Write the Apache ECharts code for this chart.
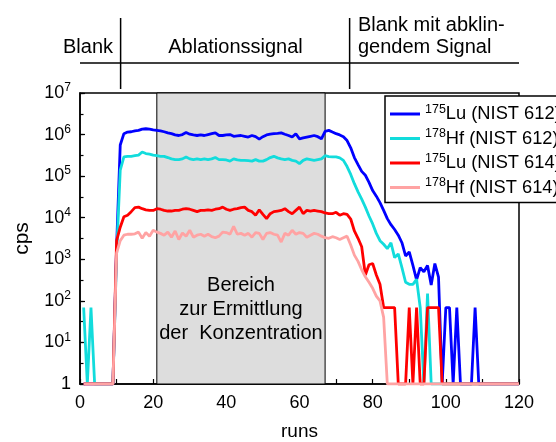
<!DOCTYPE html>
<html><head><meta charset="utf-8">
<script src="https://cdn.jsdelivr.net/npm/echarts@6.0.0/dist/echarts.min.js"></script>
<style>html,body{margin:0;padding:0;background:#fff}#c{width:556px;height:442px}</style>
</head><body><div id="c"></div>
<script>
// ---- data ----
const isotopes = ['175', '178', '175', '178'];
const elements = ['Lu', 'Hf', 'Lu', 'Hf'];
const materials = ['NIST 612', 'NIST 612', 'NIST 614', 'NIST 614'];
const seriesNames = ['175Lu (NIST 612)', '178Hf (NIST 612)', '175Lu (NIST 614)', '178Hf (NIST 614)'];
const xTickValues = [0, 20, 40, 60, 80, 100, 120];
const phaseBounds = [11.1, 73.7];          // Blank | Ablationssignal | Blank mit abklingendem Signal
const evalRange = [21, 67];                // Bereich zur Ermittlung der Konzentration
const firstRun = 1;

// cps per run (runs 1..120)
const lu612 = [1,1,1,1,1,1,1,1,1,
  2000,5.6e5,1.05e6,1.15e6,1.17e6,1.23e6,1.26e6,1.35e6,1.38e6,1.35e6,
  1.29e6,1.26e6,1.23e6,1.17e6,1.1e6,1.05e6,9.8e5,9.5e5,1.0e6,1.12e6,
  1.02e6,9.8e5,9.5e5,9.8e5,9.5e5,1.0e6,1.05e6,1.1e6,9.5e5,9.5e5,
  9.8e5,1.0e6,9.1e5,9.3e5,9.5e5,9.1e5,8.7e5,9.5e5,8.9e5,7.8e5,
  8.9e5,9.8e5,1.02e6,1.05e6,1.07e6,1.1e6,1.02e6,9.5e5,8.7e5,1.05e6,
  7.9e5,8.3e5,8.7e5,9.1e5,9.5e5,8.9e5,7.9e5,1.2e6,1.26e6,1.15e6,
  1.05e6,9.8e5,8.9e5,7.2e5,4.8e5,2.8e5,1.9e5,1.3e5,1.05e5,7.1e4,
  4.5e4,3.3e4,2.3e4,1.5e4,9500,6800,5200,3800,2500,1200,
  1500,710,320,630,500,710,240,790,370,1,
  69,69,1,69,1,1,1,1,69,1,
  1,1,1,1,1,1,1,1,1,1,1];
const hf612 = [69,1,69,1,1,1,1,1,1,
  1300,1.4e5,2.9e5,3.0e5,3.0e5,3.1e5,3.2e5,3.8e5,3.5e5,3.4e5,
  3.2e5,3.1e5,3.0e5,3.0e5,2.8e5,2.6e5,2.5e5,2.5e5,2.6e5,2.9e5,
  2.6e5,2.5e5,2.6e5,2.5e5,2.6e5,2.5e5,2.6e5,2.8e5,2.5e5,2.5e5,
  2.45e5,2.3e5,2.6e5,2.45e5,2.4e5,2.4e5,2.35e5,2.3e5,2.5e5,2.3e5,
  2.3e5,2.5e5,2.8e5,3.0e5,2.75e5,2.6e5,2.5e5,2.6e5,2.4e5,2.3e5,
  2.0e5,2.4e5,2.6e5,2.5e5,2.4e5,2.5e5,2.6e5,3.1e5,2.95e5,2.9e5,
  2.9e5,2.75e5,2.4e5,1.7e5,1.1e5,6.6e4,4.2e4,2.8e4,1.8e4,1.1e4,
  7100,4200,2800,2300,1800,2500,1100,1350,630,280,
  250,250,330,69,1,150,1,1,1,1,
  1,1,1,1,1,1,1,1,1,1,
  1,1,1,1,1,1,1,1,1,1,1];
const lu614 = [1,1,1,1,1,1,1,1,1,
  2800,5900,1.05e4,1.15e4,1.4e4,1.75e4,1.8e4,1.65e4,1.55e4,1.5e4,
  1.5e4,1.65e4,1.6e4,1.5e4,1.45e4,1.45e4,1.5e4,1.5e4,1.6e4,1.65e4,
  1.6e4,1.5e4,1.4e4,1.5e4,1.5e4,1.55e4,1.5e4,1.6e4,1.65e4,1.8e4,
  1.6e4,1.5e4,1.6e4,1.65e4,1.75e4,1.8e4,1.5e4,1.4e4,1.15e4,1.55e4,
  1.2e4,9500,1.25e4,1.4e4,1.45e4,1.5e4,1.65e4,1.4e4,1.25e4,1.5e4,
  1.8e4,1.25e4,1.5e4,1.45e4,1.5e4,1.45e4,1.4e4,1.3e4,1.25e4,1.25e4,
  1.35e4,1.15e4,1.25e4,1.2e4,9300,4800,3200,2000,420,740,
  790,420,250,69,69,69,69,1,1,1,
  69,1,69,1,1,69,69,69,69,1,
  1,1,1,1,1,1,1,1,1,1,
  1,1,1,1,1,1,1,1,1,1,1];
const hf614 = [1,1,1,1,1,1,1,1,1,
  1400,2800,3800,4000,4000,4100,4500,3200,4400,3600,
  5000,4500,4200,3800,4500,3400,4800,3000,4300,3600,
  5000,3400,3800,4000,3600,4000,3500,3300,3600,4500,
  4400,4000,6200,4000,4200,3800,4200,3400,4400,4200,
  3000,4200,4400,4000,3800,2600,4200,3800,5000,4000,
  4400,4200,3400,3800,4200,4000,3600,3300,3200,3500,
  3300,3000,3300,3600,2200,1260,890,560,380,280,
  200,130,100,40,1,1,1,1,1,1,
  1,1,1,1,1,1,1,1,1,1,
  1,1,1,1,1,1,1,1,1,1,
  1,1,1,1,1,1,1,1,1,1,1];
const seriesValues = [lu612, hf612, lu614, hf614];
const seriesColors = ['#0000ff', '#12dcdc', '#ff0000', '#ffa3a3'];

// ---- chart ----
const FF = '"Liberation Sans", Arial, Helvetica, sans-serif';
const chart = echarts.init(document.getElementById('c'), null, { renderer: 'canvas' });

const lineSeries = seriesValues.map((vals, k) => ({
  type: 'line',
  name: seriesNames[k],
  data: vals.map((v, i) => [i + firstRun, v]),
  symbol: 'none',
  showSymbol: false,
  lineStyle: { width: 2.8, color: seriesColors[k] },
  itemStyle: { color: seriesColors[k] },
  z: 3,
  animation: false
}));

const areaSeries = {
  type: 'line',
  name: '_area',
  data: [],
  z: 1,
  animation: false,
  markArea: {
    silent: true,
    itemStyle: { color: '#dddddd', borderColor: '#000', borderWidth: 1 },
    label: {
      show: true,
      position: ['50%', '74.3%'],
      align: 'center',
      verticalAlign: 'middle',
      color: '#000',
      fontFamily: FF,
      fontSize: 20,
      lineHeight: 24,
      formatter: 'Bereich\nzur Ermittlung\nder  Konzentration'
    },
    data: [[{ xAxis: evalRange[0] }, { xAxis: evalRange[1] }]]
  }
};

const option = {
  backgroundColor: '#fff',
  animation: false,
  grid: { left: 80, right: 37, top: 93, bottom: 58, show: true, borderColor: '#000', borderWidth: 1.5, backgroundColor: 'transparent', outerBoundsMode: 'none', containLabel: false },
  legend: {
    data: seriesNames.map(n => ({ name: n, icon: 'rect' })),
    orient: 'vertical',
    left: 385, top: 96,
    padding: [7, 10, 6, 5],
    itemGap: 4.5,
    itemWidth: 30, itemHeight: 3,
    backgroundColor: '#fff',
    borderColor: '#000', borderWidth: 1.5, borderRadius: 0,
    selectedMode: false,
    formatter: name => {
      const i = seriesNames.indexOf(name);
      return '{s|' + isotopes[i] + '}{n|' + elements[i] + ' (' + materials[i] + ')}';
    },
    textStyle: {
      color: '#000', fontFamily: FF, fontSize: 18,
      rich: {
        s: { fontSize: 12.5, fontFamily: FF, color: '#000', verticalAlign: 'top' },
        n: { fontSize: 18.3, fontFamily: FF, color: '#000', lineHeight: 22, verticalAlign: 'middle' }
      }
    }
  },
  xAxis: {
    type: 'value', min: xTickValues[0], max: xTickValues[xTickValues.length - 1], interval: 20,
    name: 'runs', nameLocation: 'middle', nameGap: 38,
    nameTextStyle: { color: '#000', fontFamily: FF, fontSize: 19 },
    axisLine: { show: true, lineStyle: { color: '#000', width: 1.5 } },
    axisTick: { show: true, inside: true, length: 5, lineStyle: { color: '#000', width: 1.2 } },
    minorTick: { show: true, splitNumber: 2, length: 5, lineStyle: { color: '#000', width: 1.2 } },
    splitLine: { show: false },
    minorSplitLine: { show: false },
    axisLabel: { color: '#000', fontFamily: FF, fontSize: 18, margin: 10 }
  },
  yAxis: [{
    type: 'log', logBase: 10, min: 1, max: 1e7, splitNumber: 7,
    name: 'cps', nameLocation: 'middle', nameGap: 47, nameRotate: 90,
    nameTextStyle: { color: '#000', fontFamily: FF, fontSize: 21 },
    axisLine: { show: true, lineStyle: { color: '#000', width: 1.5 } },
    axisTick: { show: true, inside: true, length: 5, lineStyle: { color: '#000', width: 1.2 } },
    splitLine: { show: false },
    axisLabel: {
      margin: 9, color: '#000', fontFamily: FF,
      formatter: v => {
        const e = Math.round(Math.log10(v));
        return e === 0 ? '{b|1}' : '{b|10}{s|' + e + '}';
      },
      rich: {
        b: { fontSize: 18, fontFamily: FF, color: '#000', lineHeight: 22, verticalAlign: 'middle' },
        s: { fontSize: 12, fontFamily: FF, color: '#000', verticalAlign: 'top' }
      }
    }
  }, {
    type: 'value', min: 0, max: 7, interval: 0.5, position: 'left', offset: 0,
    axisLine: { show: false },
    axisTick: { show: true, inside: true, length: 3.5, lineStyle: { color: '#000', width: 1.2 } },
    axisLabel: { show: false },
    splitLine: { show: false }
  }],
  series: [areaSeries].concat(lineSeries)
};
chart.setOption(option);

// header annotation placed relative to the x axis
const px = r => chart.convertToPixel({ xAxisIndex: 0 }, r);
const xL = px(xTickValues[0]), xR = px(xTickValues[xTickValues.length - 1]);
const xA = px(phaseBounds[0]), xB = px(phaseBounds[1]);
const lineStyle = { stroke: '#000', lineWidth: 1.5 };
const txt = (x, y, text, align) => ({ type: 'text', x, y, style: { text, fill: '#000', font: '20px ' + FF, textAlign: align, textVerticalAlign: 'middle' } });
chart.setOption({
  graphic: [
    { type: 'line', shape: { x1: xL, y1: 63, x2: xR, y2: 63 }, style: lineStyle },
    { type: 'line', shape: { x1: xA, y1: 18, x2: xA, y2: 89 }, style: lineStyle },
    { type: 'line', shape: { x1: xB, y1: 18, x2: xB, y2: 89 }, style: lineStyle },
    txt(88, 47, 'Blank', 'center'),
    txt(235.5, 47, 'Ablationssignal', 'center'),
    txt(358, 25, 'Blank mit abklin-', 'left'),
    txt(358, 47, 'gendem Signal', 'left')
  ]
});
</script></body></html>
